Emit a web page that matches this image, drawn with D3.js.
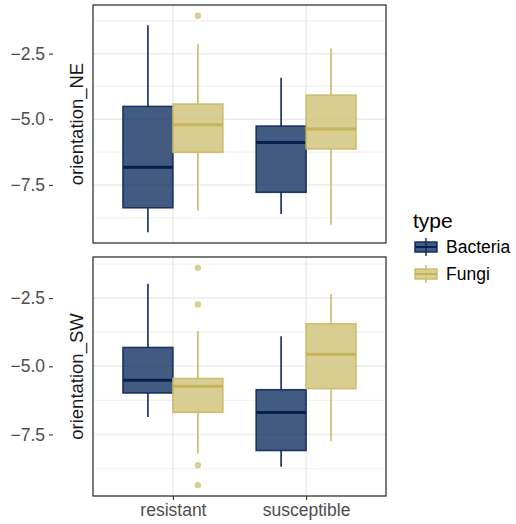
<!DOCTYPE html>
<html>
<head>
<meta charset="utf-8">
<script src="https://cdn.jsdelivr.net/npm/d3@7"></script>
<style>
  body { margin: 0; background: #fff; }
  text { font-family: "Liberation Sans", Arial, sans-serif; }
</style>
</head>
<body>
<div id="chart"></div>
<script>
// categories
var groups = ["resistant", "susceptible"];
var types = ["Bacteria", "Fungi"];

// box stats per group: [lower whisker, q1, median, q3, upper whisker]
var neBacteria = [[-9.30, -8.37, -6.83, -4.51, -1.42], [-8.61, -7.78, -5.88, -5.26, -3.42]];
var neFungi    = [[-8.48, -6.26, -5.21, -4.42, -2.14], [-9.02, -6.13, -5.37, -4.08, -2.30]];
var neOutliers = [[[], [-1.06]], [[], []]];

var swBacteria = [[-6.86, -5.98, -5.51, -4.31, -1.97], [-8.69, -8.09, -6.70, -5.86, -3.90]];
var swFungi    = [[-8.20, -6.69, -5.73, -5.45, -3.71], [-7.74, -5.82, -4.56, -3.44, -2.35]];
var swOutliers = [[[], [-1.39, -2.73, -8.63, -9.36]], [[], []]];

var yTicks = [-2.5, -5.0, -7.5];

var fills = {Bacteria: "#0b2a5b", Fungi: "#d2c47e"};
var strokes = {Bacteria: "#0b2a5b", Fungi: "#cbb969"};

var panels = [
  {title: "orientation_NE", bac: neBacteria, fun: neFungi, out: neOutliers, top: 5, bottom: 243},
  {title: "orientation_SW", bac: swBacteria, fun: swFungi, out: swOutliers, top: 257, bottom: 496}
];

var margin = {left: 93, right: 386};
var axisX = 53; // y axis ticks sit left of the strip labels

var svg = d3.select("#chart").append("svg")
    .attr("width", 516)
    .attr("height", 524);

// discrete x as a linear scale over positions, ggplot style expansion
var x = d3.scaleLinear()
    .domain([0.4, 2.6])
    .range([margin.left, margin.right]);

var dodge = 0.75;

panels.forEach(function(p) {
  // gather all values for the y domain
  var all = [];
  for (var i = 0; i < groups.length; i++) {
    all = all.concat(p.bac[i], p.fun[i], p.out[i][0], p.out[i][1]);
  }
  var ext = d3.extent(all);
  var pad = (ext[1] - ext[0]) * 0.05;
  var y = d3.scaleLinear()
      .domain([ext[0] - pad, ext[1] + pad])
      .range([p.bottom, p.top]);

  var g = svg.append("g");

  g.append("rect")
    .attr("x", margin.left).attr("y", p.top)
    .attr("width", margin.right - margin.left)
    .attr("height", p.bottom - p.top)
    .attr("fill", "#fff");

  // minor grid
  var minor = [];
  for (var v = -1.25; v >= y.domain()[0]; v -= 2.5) {
    if (v <= y.domain()[1]) minor.push(v);
  }
  g.selectAll(".minor").data(minor).enter().append("line")
    .attr("x1", margin.left).attr("x2", margin.right)
    .attr("y1", function(d) { return y(d); })
    .attr("y2", function(d) { return y(d); })
    .attr("stroke", "#f2f2f2").attr("stroke-width", 1.2);

  // major grid
  g.selectAll(".major").data(yTicks).enter().append("line")
    .attr("x1", margin.left).attr("x2", margin.right)
    .attr("y1", function(d) { return y(d); })
    .attr("y2", function(d) { return y(d); })
    .attr("stroke", "#ebebeb").attr("stroke-width", 1.5);

  g.selectAll(".vgrid").data(groups).enter().append("line")
    .attr("x1", function(d, i) { return x(i + 1); })
    .attr("x2", function(d, i) { return x(i + 1); })
    .attr("y1", p.top).attr("y2", p.bottom)
    .attr("stroke", "#ebebeb").attr("stroke-width", 1.5);

  // boxes
  var boxes = [];
  groups.forEach(function(gr, i) {
    boxes.push({type: "Bacteria", pos: i + 1 - dodge / 4, s: p.bac[i], out: p.out[i][0]});
    boxes.push({type: "Fungi", pos: i + 1 + dodge / 4, s: p.fun[i], out: p.out[i][1]});
  });

  var bw = x(dodge / 2) - x(0);

  boxes.forEach(function(b) {
    var cx = x(b.pos);
    var col = strokes[b.type];
    g.append("line")
      .attr("x1", cx).attr("x2", cx)
      .attr("y1", y(b.s[4])).attr("y2", y(b.s[3]))
      .attr("stroke", col).attr("stroke-width", 1.6);
    g.append("line")
      .attr("x1", cx).attr("x2", cx)
      .attr("y1", y(b.s[1])).attr("y2", y(b.s[0]))
      .attr("stroke", col).attr("stroke-width", 1.6);
    g.append("rect")
      .attr("x", cx - bw / 2).attr("y", y(b.s[3]))
      .attr("width", bw).attr("height", y(b.s[1]) - y(b.s[3]))
      .attr("fill", fills[b.type]).attr("fill-opacity", b.type == "Bacteria" ? 0.77 : 0.85)
      .attr("stroke", col).attr("stroke-opacity", 0.9).attr("stroke-width", 1.6);
    g.append("line")
      .attr("x1", cx - bw / 2).attr("x2", cx + bw / 2)
      .attr("y1", y(b.s[2])).attr("y2", y(b.s[2]))
      .attr("stroke", b.type == "Bacteria" ? "#06204d" : "#c6b35c")
      .attr("stroke-width", 3);
    g.selectAll(null).data(b.out).enter().append("circle")
      .attr("cx", cx)
      .attr("cy", function(d) { return y(d); })
      .attr("r", 3.2)
      .attr("fill", fills[b.type]).attr("fill-opacity", 0.85);
  });

  // border
  g.append("rect")
    .attr("x", margin.left).attr("y", p.top)
    .attr("width", margin.right - margin.left)
    .attr("height", p.bottom - p.top)
    .attr("fill", "none").attr("stroke", "#333").attr("stroke-width", 1.3);

  // y axis
  var ax = g.append("g")
      .attr("transform", "translate(" + axisX + ",0)")
      .call(d3.axisLeft(y).tickValues(yTicks).tickSize(4).tickPadding(4)
        .tickFormat(function(d) { return d3.format(".1f")(d).replace("-", "\u2212"); }));
  ax.select(".domain").remove();
  ax.selectAll(".tick line").attr("stroke", "#333").attr("stroke-width", 1.1);
  ax.selectAll(".tick text")
    .attr("fill", "#4d4d4d")
    .style("font-size", "17.5px")
    .style("font-family", "Liberation Sans, Arial, sans-serif");

  g.append("text")
    .attr("transform", "translate(83," + ((p.top + p.bottom) / 2) + ") rotate(-90)")
    .attr("text-anchor", "middle")
    .style("font-size", "18.5px")
    .attr("fill", "#1a1a1a")
    .text(p.title);
});

// x axis under bottom panel
var xAx = svg.append("g")
    .attr("transform", "translate(0," + panels[1].bottom + ")")
    .call(d3.axisBottom(x).tickValues([1, 2]).tickSize(4).tickPadding(4)
      .tickFormat(function(d) { return groups[d - 1]; }));
xAx.select(".domain").remove();
xAx.selectAll(".tick line").attr("stroke", "#333").attr("stroke-width", 1.1);
xAx.selectAll(".tick text")
  .attr("fill", "#4d4d4d")
  .style("font-size", "17.5px")
  .style("font-family", "Liberation Sans, Arial, sans-serif");

// legend
var legend = svg.append("g").attr("transform", "translate(413,0)");
legend.append("text")
  .attr("x", 0).attr("y", 228)
  .style("font-size", "21px")
  .text("type");

var keys = legend.selectAll(".key").data(types).enter().append("g")
    .attr("transform", function(d, i) { return "translate(2," + (238 + i * 27) + ")"; });

keys.append("line")
  .attr("x1", 11).attr("x2", 11).attr("y1", 0).attr("y2", 18)
  .attr("stroke", function(d) { return strokes[d]; }).attr("stroke-width", 1.4);
keys.append("rect")
  .attr("x", 0).attr("y", 4).attr("width", 22).attr("height", 10)
  .attr("fill", function(d) { return fills[d]; })
  .attr("fill-opacity", function(d) { return d == "Bacteria" ? 0.77 : 0.85; })
  .attr("stroke", function(d) { return strokes[d]; }).attr("stroke-width", 1.4);
keys.append("line")
  .attr("x1", 0).attr("x2", 22).attr("y1", 9).attr("y2", 9)
  .attr("stroke", function(d) { return d == "Bacteria" ? "#06204d" : "#c6b35c"; })
  .attr("stroke-width", 2);
keys.append("text")
  .attr("x", 31).attr("y", 15)
  .style("font-size", "17.5px")
  .text(function(d) { return d; });
</script>
</body>
</html>
